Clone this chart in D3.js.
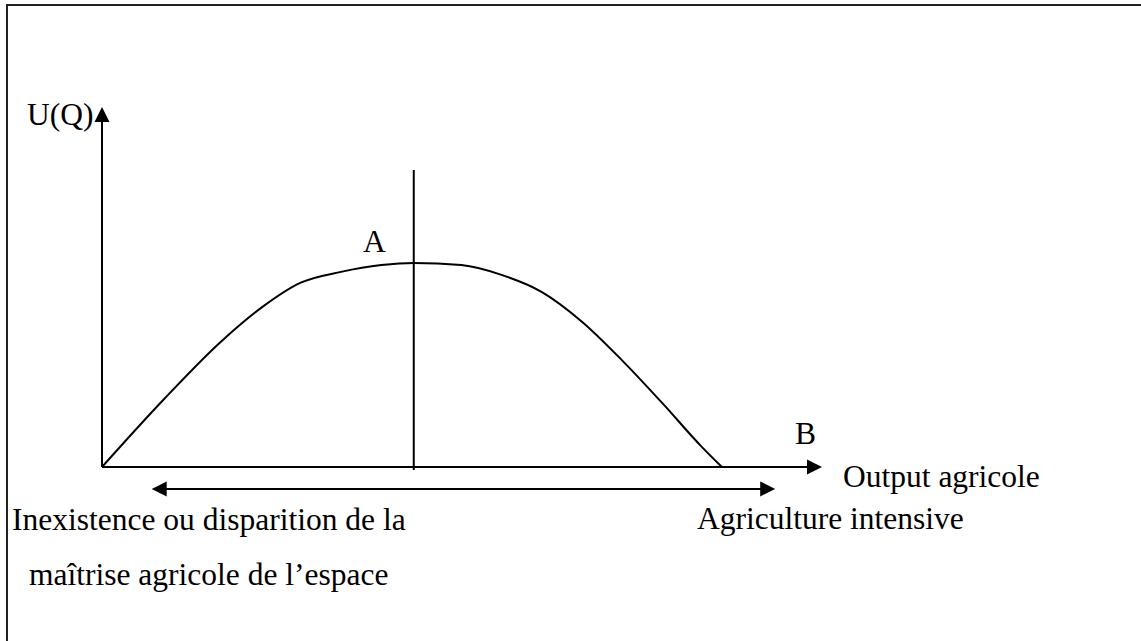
<!DOCTYPE html>
<html>
<head>
<meta charset="utf-8">
<script src="https://cdn.jsdelivr.net/npm/d3@7"></script>
<style>
  html, body { margin: 0; padding: 0; background: #fff; }
  svg text { font-family: "Liberation Serif", "Times New Roman", serif; fill: #000; }
</style>
</head>
<body>
<div id="chart"></div>
<script>
// Output agricole (x) and utility U(Q) (y)
const outputQ = [0, 8.5, 16.4, 22.1, 27.6, 33.2, 38.8, 43.3, 49.9, 55.6, 61.1, 66.7, 72.2, 77.8, 83.3, 86.1];
const utility = [0, 18.6, 34.6, 44.2, 51.2, 54.2, 56.1, 56.7, 56.1, 53.3, 48.6, 40.3, 29.7, 17.8, 5.6, 0];

// point A (the optimum) and the span of the double arrow
const optimumQ = 43.3;
const optimumLine = [-0.8, 82.5];
const spanQ = [6.9, 93.5];
const spanLevel = -6.1;

const width = 1141;
const height = 641;

const svg = d3.select('#chart').append('svg')
  .attr('width', width)
  .attr('height', height)
  .attr('viewBox', `0 0 ${width} ${height}`);

const x = d3.scaleLinear().domain([0, 100]).range([102, 822]);
const y = d3.scaleLinear().domain([0, 100]).range([467, 107]);

// frame (top and left edges only)
svg.append('path')
  .attr('d', `M7,${height} L7,5 L${width},5`)
  .attr('fill', 'none')
  .attr('stroke', '#222')
  .attr('stroke-width', 2);

// arrowhead helper: tip at (tx, ty), pointing in direction (dx, dy)
function arrowHead(tx, ty, dx, dy) {
  const len = 15, half = 7.5;
  const bx = tx - dx * len, by = ty - dy * len;
  const px = -dy * half, py = dx * half;
  svg.append('path')
    .attr('d', `M${tx},${ty} L${bx + px},${by + py} L${bx - px},${by - py} Z`)
    .attr('fill', '#000');
}

// Axes
svg.append('line')
  .attr('x1', x(0)).attr('y1', y(0))
  .attr('x2', x(0)).attr('y2', y(100) + 12)
  .attr('stroke', '#000').attr('stroke-width', 2);
arrowHead(x(0), y(100), 0, -1);

svg.append('line')
  .attr('x1', x(0)).attr('y1', y(0))
  .attr('x2', x(100) - 12).attr('y2', y(0))
  .attr('stroke', '#000').attr('stroke-width', 2);
arrowHead(x(100), y(0), 1, 0);

// Curve
const pts = outputQ.map((q, i) => [q, utility[i]]);
const line = d3.line()
  .x(d => x(d[0]))
  .y(d => y(d[1]))
  .curve(d3.curveMonotoneX);

svg.append('path')
  .datum(pts)
  .attr('d', line)
  .attr('fill', 'none')
  .attr('stroke', '#000')
  .attr('stroke-width', 2);

// Vertical line through A
svg.append('line')
  .attr('x1', x(optimumQ)).attr('y1', y(optimumLine[0]))
  .attr('x2', x(optimumQ)).attr('y2', y(optimumLine[1]))
  .attr('stroke', '#000').attr('stroke-width', 2);

// Double arrow
svg.append('line')
  .attr('x1', x(spanQ[0]) + 12).attr('y1', y(spanLevel))
  .attr('x2', x(spanQ[1]) - 12).attr('y2', y(spanLevel))
  .attr('stroke', '#000').attr('stroke-width', 2);
arrowHead(x(spanQ[0]), y(spanLevel), -1, 0);
arrowHead(x(spanQ[1]), y(spanLevel), 1, 0);

// Labels
const labels = [
  { text: 'U(Q)', x: 27, y: 125 },
  { text: 'A', x: 363, y: 252 },
  { text: 'B', x: 795, y: 444 },
  { text: 'Output agricole', x: 843, y: 487 },
  { text: 'Agriculture intensive', x: 697, y: 529 },
  { text: 'Inexistence ou disparition de la', x: 12, y: 530 },
  { text: 'maîtrise agricole de l’espace', x: 29, y: 585 }
];

svg.selectAll('.label')
  .data(labels)
  .enter()
  .append('text')
  .attr('class', 'label')
  .attr('x', d => d.x)
  .attr('y', d => d.y)
  .attr('font-size', '31.5px')
  .text(d => d.text);
</script>
</body>
</html>
